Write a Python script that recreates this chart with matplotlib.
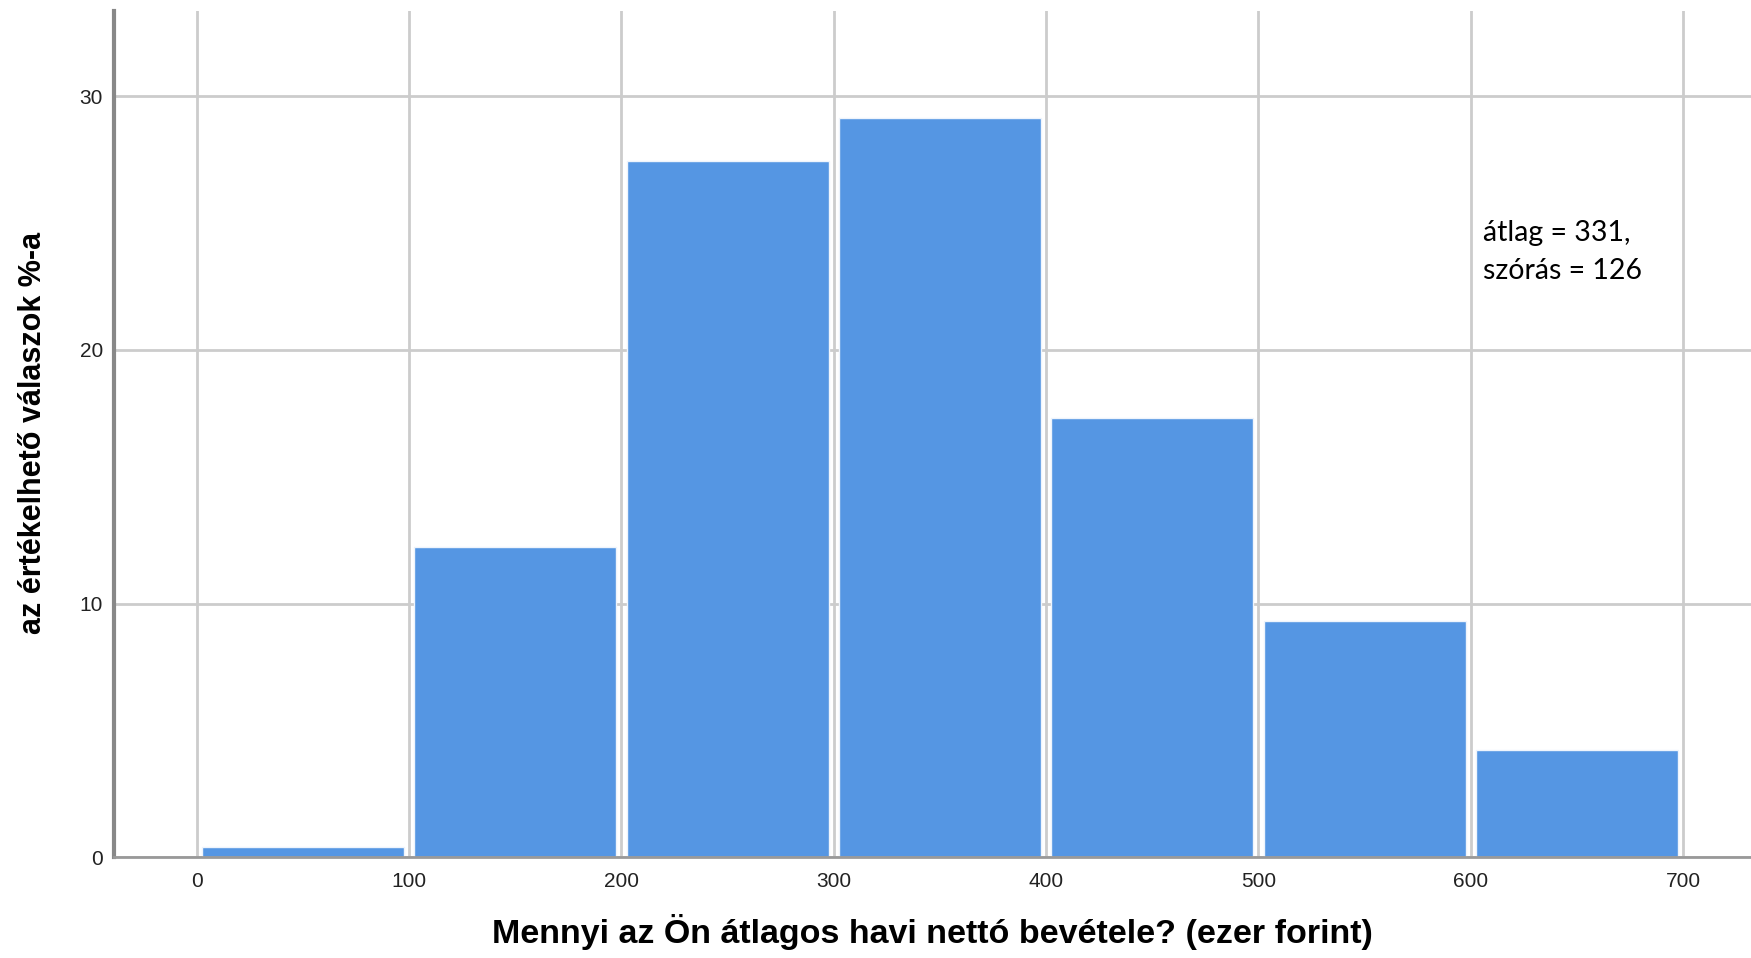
import matplotlib
matplotlib.use("Agg")
import matplotlib.pyplot as plt
from matplotlib import font_manager

bin_edges = [0, 100, 200, 300, 400, 500, 600, 700]
percentages = [0.4, 12.23, 27.45, 29.15, 17.32, 9.30, 4.21]
y_ticks = [0, 10, 20, 30]
x_ticks = [0, 100, 200, 300, 400, 500, 600, 700]
x_label = "Mennyi az Ön átlagos havi nettó bevétele? (ezer forint)"
y_label = "az értékelhető válaszok %-a"
stats_text = "átlag = 331,\nszórás = 126"

names = {f.name for f in font_manager.fontManager.ttflist}
narrow = "Liberation Sans Narrow" if "Liberation Sans Narrow" in names else "Liberation Sans"

fig = plt.figure(figsize=(17.51, 9.58), dpi=100)
ax = fig.add_axes([0.0651, 0.1054, 0.9349, 0.8831])

gap = 2.4  # visual inset of each bar inside its bin (style)
lefts = [bin_edges[i] + gap for i in range(len(percentages))]
widths = [bin_edges[i + 1] - bin_edges[i] - 2 * gap for i in range(len(percentages))]
ax.bar(lefts, percentages, width=widths, align="edge", color="#5596E3",
       edgecolor="#eef4fc", linewidth=1, zorder=3)

ax.set_xlim(-39, 732)
ax.set_ylim(0, 33.37)
ax.set_xticks(x_ticks)
ax.set_yticks(y_ticks)
ax.grid(True, color="#cccccc", linewidth=2, zorder=0)
ax.set_axisbelow(True)
for s in ["top", "right"]:
    ax.spines[s].set_visible(False)
ax.spines["left"].set_color("#888888")
ax.spines["left"].set_linewidth(3)
ax.spines["bottom"].set_color("#999999")
ax.spines["bottom"].set_linewidth(2)
ax.spines["bottom"].set_zorder(4)
ax.tick_params(length=0, labelsize=15, colors="#222222")
ax.tick_params(axis="x", pad=11)
ax.tick_params(axis="y", pad=8)
for lab in ax.get_xticklabels() + ax.get_yticklabels():
    lab.set_family("Liberation Sans")

ax.set_xlabel(x_label, fontsize=24.5, fontweight="bold", family="Liberation Sans", labelpad=16)
fig.text(0.019, 0.548, y_label, rotation=90, fontsize=22, fontweight="bold",
         family=narrow, ha="center", va="center")

ax.text(1483 / 1751, 1 - 252 / 958, stats_text, transform=fig.transFigure,
        fontsize=20.5, family="Lato", ha="left", va="center", linespacing=1.55)

fig.savefig("out.png", dpi=100)
